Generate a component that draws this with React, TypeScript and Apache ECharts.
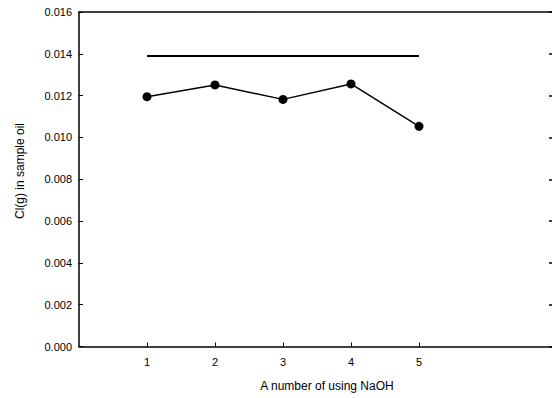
import React, { useEffect, useRef } from "react";
import * as echarts from "echarts";

const runs = [1, 2, 3, 4, 5];
const clValues = [0.01195, 0.01251, 0.01182, 0.01256, 0.01053];
const limitValue = 0.0139;
const yTicks = [0, 0.002, 0.004, 0.006, 0.008, 0.01, 0.012, 0.014, 0.016];

const FONT = "'Liberation Sans', Arial, sans-serif";

export default function App() {
  const ref = useRef<HTMLDivElement>(null);
  useEffect(() => {
    if (!ref.current) return;
    const chart = echarts.init(ref.current, null, { renderer: "svg" });
    const axisLine = { show: true, onZero: false, lineStyle: { color: "#000", width: 1.5 } };
    chart.setOption({
      animation: false,
      backgroundColor: "#fff",
      textStyle: { fontFamily: FONT },
      grid: {
        left: 79,
        top: 12,
        width: 476,
        height: 334.5,
        containLabel: false,
        outerBoundsMode: "none",
      },
      xAxis: [
        {
          type: "value",
          min: 0,
          max: 7,
          interval: 1,
          position: "bottom",
          axisLine,
          splitLine: { show: false },
          axisTick: { show: true, inside: true, length: 4, lineStyle: { color: "#000" }, customValues: runs },
          axisLabel: { customValues: runs, color: "#000", fontSize: 11, fontFamily: FONT, margin: 10 },
        },
        {
          type: "value",
          min: 0,
          max: 7,
          interval: 1,
          position: "top",
          axisLine,
          axisTick: { show: false },
          axisLabel: { show: false },
          splitLine: { show: false },
        },
      ],
      yAxis: [
        {
          type: "value",
          min: 0,
          max: 0.016,
          interval: 0.002,
          position: "left",
          axisLine,
          splitLine: { show: false },
          axisTick: { show: true, inside: true, length: 4, lineStyle: { color: "#000" }, customValues: yTicks },
          axisLabel: {
            color: "#000",
            fontSize: 11,
            fontFamily: FONT,
            margin: 7,
            formatter: (v: number) => v.toFixed(3),
          },
        },
        {
          type: "value",
          min: 0,
          max: 0.016,
          interval: 0.002,
          position: "right",
          axisLine,
          splitLine: { show: false },
          axisTick: { show: true, inside: true, length: 6, lineStyle: { color: "#000", width: 1.5 } },
          axisLabel: { show: false },
        },
      ],
      graphic: [
        {
          type: "text",
          x: 20,
          y: 171,
          rotation: Math.PI / 2,
          style: {
            text: "Cl(g) in sample oil",
            fill: "#000",
            font: `12px ${FONT}`,
            align: "center",
            verticalAlign: "middle",
          },
        },
        {
          type: "text",
          x: 327,
          y: 386,
          style: {
            text: "A number of using NaOH",
            fill: "#000",
            font: `12px ${FONT}`,
            align: "center",
            verticalAlign: "middle",
          },
        },
      ],
      series: [
        {
          type: "line",
          xAxisIndex: 0,
          yAxisIndex: 0,
          data: [
            [runs[0], limitValue],
            [runs[runs.length - 1], limitValue],
          ],
          showSymbol: false,
          symbol: "none",
          lineStyle: { color: "#000", width: 2 },
        },
        {
          type: "line",
          xAxisIndex: 0,
          yAxisIndex: 0,
          data: runs.map((r, i) => [r, clValues[i]]),
          symbol: "circle",
          symbolSize: 9,
          itemStyle: { color: "#000" },
          lineStyle: { color: "#000", width: 1.5 },
        },
      ],
    });
    return () => chart.dispose();
  }, []);
  return (
    <div
      ref={ref}
      style={{ position: "fixed", left: 0, top: 0, width: 552, height: 398, background: "#fff" }}
    />
  );
}
